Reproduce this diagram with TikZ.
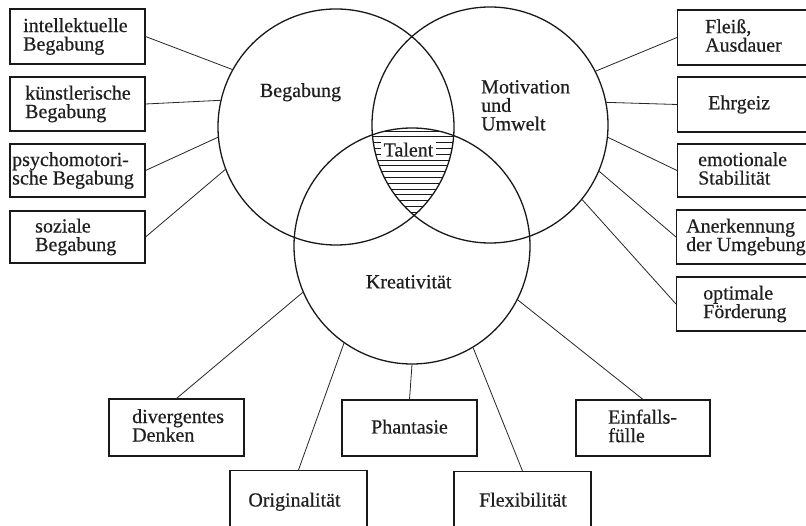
\documentclass[tikz,border=0pt]{standalone}
\usepackage{fontspec}
\setmainfont{Liberation Serif}
\newfontfamily\diafont{Liberation Serif}[FakeBold=0.45]
\begin{document}
\begin{tikzpicture}[x=1pt,y=-1pt,
  txt/.style={font=\diafont\fontsize{20}{18.5}\selectfont, align=left, inner sep=0pt, text=black!88},
  ring/.style={circle, draw=black!90, line width=1.3pt, minimum size=236pt, inner sep=0pt},
  cbox/.style={rectangle, draw=black!90, line width=1.1pt, inner sep=0pt},
  conn/.style={draw=black!85, line width=0.8pt},
  hatch/.style={draw=black!90, line width=0.9pt}]
\useasboundingbox (0,0) rectangle (806,526);
\clip (0,0) rectangle (806,526);
\fill[white] (0,0) rectangle (806,526);

% hatching of the common region
\begin{scope}
  \clip (336,127) circle (118pt);
  \clip (490,125) circle (118pt);
  \clip (412,246) circle (118pt);
  \foreach \yy in {131,136.8,...,220} \draw[hatch] (370,\yy) -- (460,\yy);
\end{scope}

% circles
\node[ring] (B) at (336,127) {};
\node[ring] (M) at (490,125) {};
\node[ring] (K) at (412,246) {};

% circle labels
\node[txt, anchor=base] (tB) at (300.5,97) {Begabung};
\node[txt, anchor=west] (tM) at (481,107.1) {\vphantom{lg}Motivation\\und\\Umwelt\vphantom{lg}};
\node[txt, anchor=base, fill=white, inner xsep=2.5pt, inner ysep=1.5pt] (tT) at (408.5,156.5) {Talent};
\node[txt, anchor=base] (tK) at (408.7,288.3) {Kreativität};

% left boxes
\node[cbox, minimum width=135pt, minimum height=55pt] (lb1) at (77.5,36.5) {};
\node[cbox, minimum width=135pt, minimum height=54pt] (lb2) at (77.5,104) {};
\node[cbox, minimum width=135pt, minimum height=53pt] (lb3) at (77.5,170.5) {};
\node[cbox, minimum width=135pt, minimum height=52pt] (lb4) at (77.5,237) {};
\node[txt, anchor=west] (lt1) at (23,36.5) {\vphantom{lg}intellektuelle\\Begabung\vphantom{lg}};
\node[txt, anchor=west] (lt2) at (25,104) {\vphantom{lg}künstlerische\\Begabung\vphantom{lg}};
\node[txt, anchor=west] (lt3) at (12,170.5) {\vphantom{lg}psychomotori-\\sche Begabung\vphantom{lg}};
\node[txt, anchor=west] (lt4) at (35,237) {\vphantom{lg}soziale\\Begabung\vphantom{lg}};

% right boxes (cut by the right edge)
\node[cbox, minimum width=160pt, minimum height=55pt, anchor=west] (rb1) at (677,37.5) {};
\node[cbox, minimum width=160pt, minimum height=55pt, anchor=west] (rb2) at (677,104.5) {};
\node[cbox, minimum width=160pt, minimum height=53pt, anchor=west] (rb3) at (677,170.5) {};
\node[cbox, minimum width=160pt, minimum height=54pt, anchor=west] (rb4) at (676,237) {};
\node[cbox, minimum width=160pt, minimum height=54pt, anchor=west] (rb5) at (676,304) {};
\node[txt, anchor=west] (rt1) at (705,37.5) {\vphantom{lg}Fleiß,\\Ausdauer\vphantom{lg}};
\node[txt, anchor=west] (rt2) at (708,104.5) {\vphantom{lg}Ehrgeiz};
\node[txt, anchor=west] (rt3) at (698,170.5) {\vphantom{lg}emotionale\\Stabilität\vphantom{lg}};
\node[txt, anchor=west] (rt4) at (686,237) {\vphantom{lg}Anerkennung\\der Umgebung\vphantom{lg}};
\node[txt, anchor=west] (rt5) at (703,304) {\vphantom{lg}optimale\\Förderung\vphantom{lg}};

% bottom boxes
\node[cbox, minimum width=135pt, minimum height=57pt] (bb1) at (176.5,427.5) {};
\node[cbox, minimum width=137pt, minimum height=62pt, anchor=north] (bb2) at (298.5,470) {};
\node[cbox, minimum width=135pt, minimum height=56pt] (bb3) at (409.5,428) {};
\node[cbox, minimum width=137pt, minimum height=62pt, anchor=north] (bb4) at (522.5,471) {};
\node[cbox, minimum width=134pt, minimum height=56pt] (bb5) at (643,428) {};
\node[txt, anchor=west] (bt1) at (132,427.5) {\vphantom{lg}divergentes\\Denken\vphantom{lg}};
\node[txt, anchor=base] (bt2) at (294.5,506.5) {Originalität};
\node[txt, anchor=base] (bt3) at (409.5,433.5) {Phantasie};
\node[txt, anchor=base] (bt4) at (523,506.5) {Flexibilität};
\node[txt, anchor=west] (bt5) at (608,428) {\vphantom{lg}Einfalls-\\fülle\vphantom{lg}};

% connectors: Begabung
\draw[conn] (B.151) -- (lb1.east);
\draw[conn] (B.167) -- (lb2.east);
\draw[conn] (B.185) -- (lb3.east);
\draw[conn] (B.201) -- (lb4.east);
% connectors: Motivation
\draw[conn] (M.27) -- (rb1.west);
\draw[conn] (M.11) -- (rb2.west);
\draw[conn] (M.354) -- (rb3.west);
\draw[conn] (M.337) -- (rb4.west);
\draw[conn] (M.321) -- (rb5.west);
% connectors: Kreativitaet
\draw[conn] (K.203) -- (bb1.north);
\draw[conn] (K.235) -- (bb2.north);
\draw[conn] (K.270) -- (bb3.north);
\draw[conn] (K.301) -- (bb4.north);
\draw[conn] (K.333) -- (bb5.north);
\end{tikzpicture}
\end{document}
